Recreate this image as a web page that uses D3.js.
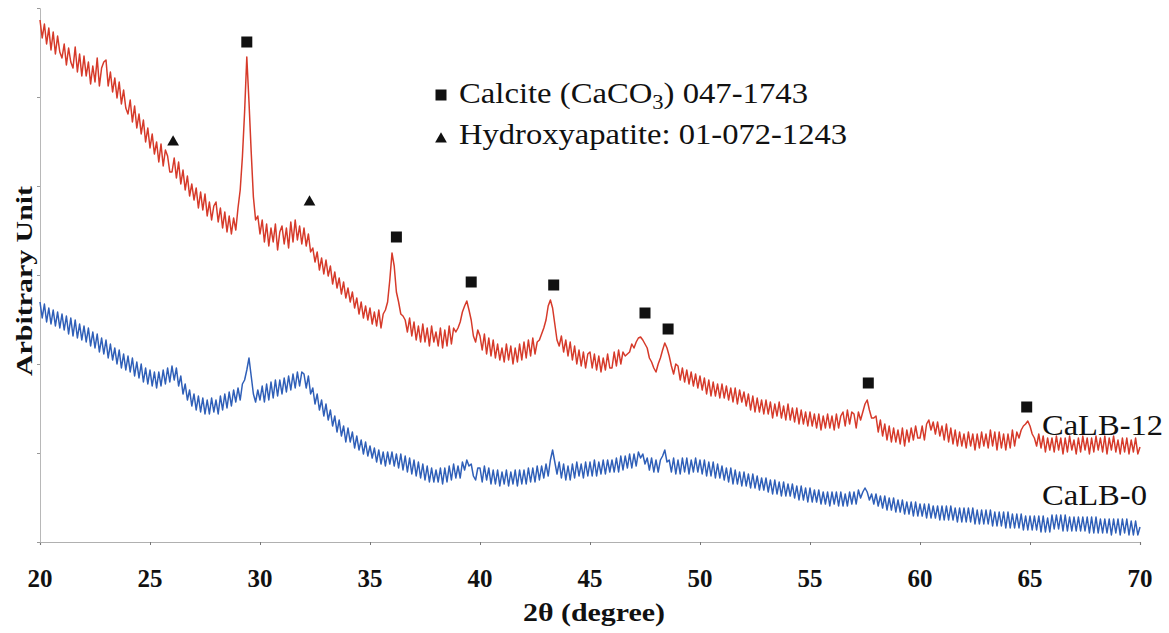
<!DOCTYPE html>
<html><head><meta charset="utf-8">
<script src="https://cdn.jsdelivr.net/npm/d3@7"></script>
<style>
html,body{margin:0;padding:0;background:#fff;}
svg{display:block;}
</style></head>
<body>
<svg id="chart" width="1169" height="633"></svg>
<script>
// 2θ grid: 20.0 → 70.0 in 0.1° steps
const twoThetaStart = 20, twoThetaStep = 0.1;
const xTicks = [20,25,30,35,40,45,50,55,60,65,70];
const yTicks = [0,89,178,267,356,445,534];

// CaLB-12 intensity (arbitrary units, offset stack)
const calb12 = [
522,504,518,498,514,492,510,488,506,490,
484,498,477,494,480,474,495,470,488,466,
486,466,480,458,476,460,484,456,474,480,
482,456,470,450,464,444,460,438,452,434,
428,442,420,436,414,428,408,422,400,414,
394,408,388,400,380,398,376,392,386,370,
370,384,364,380,358,372,352,366,346,358,
342,354,334,350,332,348,326,340,322,336,
340,320,334,314,330,310,326,308,324,312,
334,352,385,430,485,440,390,345,322,326,
308,322,300,318,296,314,300,318,292,310,
316,298,314,294,320,300,322,302,316,298,
314,296,308,290,294,280,290,272,284,268,
282,266,276,258,270,254,264,248,260,244,
254,240,250,234,244,228,240,224,236,222,
234,218,230,216,232,214,228,232,240,262,
289,276,250,240,228,226,222,210,224,206,
220,202,216,200,218,200,214,196,216,200,
210,196,214,194,212,196,216,198,214,210,
214,220,230,236,241,232,222,206,200,212,
206,192,208,188,204,186,202,184,198,182,
194,180,198,182,196,178,194,180,198,182,
200,184,202,186,204,188,200,202,208,214,
222,236,242,234,218,202,196,206,190,202,
186,200,182,196,178,192,176,190,174,188,
190,174,188,172,186,170,184,172,188,174,
174,190,176,192,178,190,186,188,190,198,
194,200,204,205,202,198,194,184,180,174,
170,178,184,192,199,194,186,176,168,178,
176,162,174,160,172,158,170,156,168,154,
166,152,164,148,162,146,160,146,158,144,
158,144,156,142,154,140,154,138,152,140,
150,136,148,132,146,130,144,130,142,128,
142,128,140,124,138,126,140,124,136,122,
138,122,134,120,134,118,132,118,130,116,
130,116,128,114,128,112,126,114,128,114,
126,112,128,114,126,130,116,132,118,130,
128,114,130,122,130,138,142,132,124,124,
126,110,122,106,118,102,116,100,114,100,
112,98,114,96,112,100,114,102,116,104,
104,116,102,118,122,112,120,108,120,106,
116,102,118,100,114,98,112,96,110,96,
108,94,110,96,108,92,108,94,110,96,
108,94,112,96,110,92,110,94,108,92,
108,94,112,96,110,104,112,116,118,121,
116,108,104,96,108,94,106,90,104,92,
104,90,106,92,104,88,104,90,106,92,
102,88,104,90,106,92,104,88,104,90,
106,92,104,90,106,88,104,92,106,90,
102,88,104,90,104,88,102,90,104,88,
95];

// CaLB-0 intensity
const calb0 = [
240,224,238,220,234,218,232,216,230,214,
228,212,226,208,224,206,222,204,218,202,
216,200,214,196,210,194,208,190,204,188,
202,184,198,182,194,178,192,174,188,172,
186,170,184,166,180,164,178,160,174,158,
172,156,170,154,170,156,172,158,174,160,
176,162,174,156,166,148,158,142,152,136,
148,132,146,130,144,128,142,128,144,130,
142,128,146,132,148,134,150,136,152,140,
154,142,158,162,172,184,166,148,140,152,
142,156,140,158,142,160,144,162,146,162,
148,164,150,166,152,168,154,170,156,170,
168,154,166,148,154,138,148,132,142,126,
138,122,132,116,126,110,122,106,116,100,
114,100,110,94,106,92,102,88,100,86,
96,84,94,80,92,78,90,76,90,78,
90,76,88,74,88,72,86,70,84,68,
82,66,80,64,78,62,76,60,74,60,
72,60,74,58,74,60,76,62,78,64,
76,64,80,72,82,76,78,66,62,74,
74,60,76,62,74,58,72,58,72,56,
70,58,72,56,70,58,72,56,72,58,
72,58,74,60,74,60,76,62,76,64,
78,66,82,92,80,68,80,64,78,62,
76,62,78,64,80,66,78,64,80,66,
80,66,82,66,80,68,82,68,82,70,
82,70,84,70,86,72,86,74,88,74,
88,76,90,84,88,78,84,72,84,70,
82,70,82,86,92,80,82,70,84,68,
82,68,84,70,84,68,82,70,84,70,
82,68,82,66,80,66,80,64,78,64,
76,62,74,60,74,58,72,58,70,56,
70,56,68,54,68,54,66,52,64,52,
64,50,62,48,62,48,60,46,60,46,
58,46,58,44,56,42,56,42,54,40,
54,40,52,40,52,38,50,38,50,36,
50,38,50,36,50,36,48,36,50,38,
50,38,52,44,50,54,50,42,48,38,
48,36,46,34,46,32,44,32,44,30,
42,30,42,28,40,28,40,26,40,26,
38,26,38,24,38,24,36,24,36,22,
36,22,36,22,36,22,34,20,34,20,
34,20,34,20,34,18,32,18,32,18,
32,18,32,16,30,16,30,16,30,14,
30,14,28,14,28,14,28,12,26,12,
26,12,26,12,26,10,26,10,24,10,
27,13,27,13,27,11,27,11,25,11,
25,11,25,11,25,11,25,9,25,9,
25,9,23,9,23,9,23,7,23,9,
23,7,23,9,23,7,21,7,21,7,
15];

// phase markers: [2θ, intensity]
const calciteMarks = [[29.4,500],[36.2,305],[39.6,260],[43.35,257],[47.5,229],[48.55,213],[57.65,159],[64.85,135]];
const hapMarks = [[26.05,400],[32.25,340]];

const seriesNames = ["CaLB-12","CaLB-0"];
const legendLabels = ["Calcite (CaCO","Hydroxyapatite: 01-072-1243"];

const FONT = "'Times New Roman', 'Liberation Serif', Tinos, serif";
const svg = d3.select("#chart");
const x = d3.scaleLinear().domain([20,70]).range([40,1140]);
const y = d3.scaleLinear().domain([0,534]).range([542,8]);

// axes
const xAxis = d3.axisBottom(x).tickValues(xTicks).tickSize(3).tickFormat("");
const gx = svg.append("g").attr("transform","translate(0,542)").call(xAxis);
gx.select(".domain").attr("stroke","#b0b0b0").attr("stroke-width",1.2);
gx.selectAll(".tick line").attr("stroke","#777");
const yAxis = d3.axisLeft(y).tickValues(yTicks).tickSize(3).tickFormat("");
const gy = svg.append("g").attr("transform","translate(40,0)").call(yAxis);
gy.select(".domain").attr("stroke","#b8b8b8").attr("stroke-width",1);
gy.selectAll(".tick line").attr("stroke","#999");

// tick labels
svg.append("g").selectAll("text").data(xTicks).join("text")
  .attr("x",d=>x(d)).attr("y",587).attr("text-anchor","middle")
  .attr("font-family",FONT).attr("fill","#111")
  .attr("font-size",25).attr("font-weight","bold").text(d=>d);

svg.append("text").attr("x",594).attr("y",621).attr("text-anchor","middle")
  .attr("font-family",FONT).attr("fill","#111")
  .attr("font-size",25).attr("font-weight","bold")
  .attr("textLength",142).attr("lengthAdjust","spacingAndGlyphs")
  .text("2θ (degree)");

svg.append("text").attr("transform","translate(32,281) rotate(-90)")
  .attr("font-family",FONT).attr("fill","#111")
  .attr("text-anchor","middle").attr("font-size",24).attr("font-weight","bold")
  .attr("textLength",190).attr("lengthAdjust","spacingAndGlyphs")
  .text("Arbitrary Unit");

// lines
const line = d3.line().x((d,i)=>x(twoThetaStart+i*twoThetaStep)).y(d=>y(d));
svg.append("path").datum(calb0).attr("d",line).attr("fill","none")
  .attr("stroke","#2f5fb8").attr("stroke-width",1.5).attr("stroke-linejoin","round");
svg.append("path").datum(calb12).attr("d",line).attr("fill","none")
  .attr("stroke","#d63a2a").attr("stroke-width",1.5).attr("stroke-linejoin","round");

// markers
const sq = d3.symbol().type(d3.symbolSquare).size(121);
const tri = d3.symbol().type(d3.symbolTriangle).size(60);
svg.append("g").selectAll("path").data(calciteMarks).join("path")
  .attr("d",sq).attr("transform",d=>`translate(${x(d[0])},${y(d[1])})`).attr("fill","#111");
svg.append("g").selectAll("path").data(hapMarks).join("path")
  .attr("d",tri).attr("transform",d=>`translate(${x(d[0])},${y(d[1])})`).attr("fill","#111");

// legend
svg.append("path").attr("d",sq).attr("transform","translate(441,95)").attr("fill","#111");
svg.append("path").attr("d",tri).attr("transform","translate(441,139)").attr("fill","#111");
const t1 = svg.append("text").attr("x",459).attr("y",103).attr("font-size",29)
  .attr("font-family",FONT).attr("fill","#111")
  .attr("textLength",349).attr("lengthAdjust","spacingAndGlyphs");
t1.append("tspan").text(legendLabels[0]);
t1.append("tspan").attr("font-size",20).attr("dy",6).text("3");
t1.append("tspan").attr("dy",-6).text(") 047-1743");
svg.append("text").attr("x",459).attr("y",144).attr("font-size",29)
  .attr("font-family",FONT).attr("fill","#111")
  .attr("textLength",388).attr("lengthAdjust","spacingAndGlyphs")
  .text(legendLabels[1]);

// series labels
svg.append("text").attr("x",1042).attr("y",435).attr("font-size",30)
  .attr("font-family",FONT).attr("fill","#111")
  .attr("textLength",121).attr("lengthAdjust","spacingAndGlyphs").text(seriesNames[0]);
svg.append("text").attr("x",1042).attr("y",505).attr("font-size",30)
  .attr("font-family",FONT).attr("fill","#111")
  .attr("textLength",105).attr("lengthAdjust","spacingAndGlyphs").text(seriesNames[1]);
</script>
</body></html>
